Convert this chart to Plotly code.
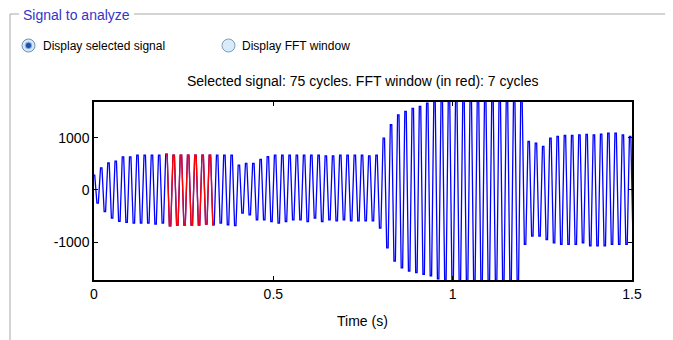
import plotly.graph_objects as go

# ---- data ----
period_s = 0.0202   # one cycle of the signal (about 50 Hz)
plateau_s = 0.004   # flat top / bottom width of each crest
peaks = [285, 420, 515, 550, 630, 630, 665, 665, 665, 665,
         685, 665, 665, 665, 665, 665, 665, 665, 665, 665,
         476, 508, 508, 584, 635, 665, 665, 665, 665, 665,
         665, 665, 650, 650, 665, 665, 665, 665, 650, 665,
         990, 1245, 1435, 1500, 1560, 1594, 1657, 1700, 1730, 1750,
         1760, 1770, 1770, 1770, 1760, 1760, 1750, 1740, 1730, 1720,
         927, 895, 832, 990, 1022, 1040, 1040, 1053, 1060, 1053,
         1065, 1085, 1085, 1053, 1022]
troughs = [-250, -413, -540, -600, -620, -635, -635, -635, -650, -635,
           -686, -670, -670, -670, -670, -650, -667, -635, -667, -680,
           -444, -476, -571, -571, -603, -635, -603, -571, -571, -603,
           -540, -603, -571, -590, -571, -590, -590, -590, -590, -730,
           -1105, -1360, -1490, -1550, -1580, -1610, -1640, -1700, -1740, -1760,
           -1780, -1790, -1790, -1790, -1780, -1770, -1760, -1750, -1740, -1041,
           -882, -882, -946, -1010, -1041, -1041, -1041, -1010, -1070, -1070,
           -1070, -1041, -1041, -1041, -1041]
fft_first_cycle = 10
fft_cycles = 7
x_ticks = [0, 0.5, 1, 1.5]
y_ticks = [-1000, 0, 1000]
title_text = "Selected signal: 75 cycles. FFT window (in red): 7 cycles"

# ---- build the signal as a peak / trough sequence ----
t, v = [], []
h = plateau_s / 2
for k, (p, q) in enumerate(zip(peaks, troughs)):
    tp = k * period_s
    tq = tp + period_s / 2
    t += [max(tp - h, 0), tp + h, tq - h, tq + h]
    v += [p, p, q, q]
i0 = 4 * fft_first_cycle
i1 = 4 * (fft_first_cycle + fft_cycles)
tr, vr = t[i0:i1], v[i0:i1]

# page is drawn with an 8 px body margin: work in page pixels, convert
OFF = 8
W, H = 673 - OFF, 340 - OFF
L, R, T, B = 94, 632, 102, 280  # plot area in page pixels


def px(x):
    return (x - L) / (R - L)


def py(y):
    return (B - y) / (B - T)


fig = go.Figure()
fig.add_trace(go.Scatter(x=t, y=v, mode="lines",
                         line=dict(color="#0000ff", width=1.3), hoverinfo="skip"))
fig.add_trace(go.Scatter(x=tr, y=vr, mode="lines",
                         line=dict(color="#ff0000", width=1.3), hoverinfo="skip"))

frame_col = "#a8a8a8"
shapes = [
    dict(type="line", xref="paper", yref="paper", x0=px(10), x1=px(10), y0=py(14), y1=py(350),
         line=dict(color=frame_col, width=1)),
    dict(type="line", xref="paper", yref="paper", x0=px(10), x1=px(19), y0=py(14), y1=py(14),
         line=dict(color=frame_col, width=1)),
    dict(type="line", xref="paper", yref="paper", x0=px(134), x1=px(666), y0=py(14), y1=py(14),
         line=dict(color=frame_col, width=1)),
    dict(type="line", xref="paper", yref="paper", x0=px(666), x1=px(666), y0=py(14), y1=py(350),
         line=dict(color=frame_col, width=1)),
]


def circle(cx, cy, r, fill, line_col, lw=1):
    return dict(type="circle", xref="paper", yref="paper",
                x0=px(cx - r), x1=px(cx + r), y0=py(cy + r), y1=py(cy - r),
                fillcolor=fill, line=dict(color=line_col, width=lw))


shapes += [
    circle(28.5, 45.5, 6.5, "#d6e8f7", "#6f8fb0"),
    circle(28.5, 45.5, 3.2, "#1f4fa8", "#8fb6e0"),
    circle(228.5, 45.5, 6.5, "#d9ebf8", "#7e9cbc"),
]

annotations = [
    dict(text="Signal to analyze", x=px(21), y=py(15), xref="paper", yref="paper",
         xanchor="left", yanchor="middle", showarrow=False,
         font=dict(family="Arial", size=14, color="#3535c8")),
    dict(text="Display selected signal", x=px(41), y=py(46), xref="paper", yref="paper",
         xanchor="left", yanchor="middle", showarrow=False,
         font=dict(family="Arial", size=12, color="#000000")),
    dict(text="Display FFT window", x=px(240), y=py(46), xref="paper", yref="paper",
         xanchor="left", yanchor="middle", showarrow=False,
         font=dict(family="Arial", size=12, color="#000000")),
    dict(text=title_text, x=px(362), y=py(81), xref="paper", yref="paper",
         xanchor="center", yanchor="middle", showarrow=False,
         font=dict(family="Arial", size=14, color="#000000")),
    dict(text="Time (s)", x=px(362), y=py(321), xref="paper", yref="paper",
         xanchor="center", yanchor="middle", showarrow=False,
         font=dict(family="Arial", size=14, color="#000000")),
]

axis_common = dict(showgrid=False, zeroline=False, showline=True, linecolor="#000000",
                   linewidth=1.5, mirror="ticks", ticks="inside", ticklen=4,
                   tickcolor="#000000", tickfont=dict(family="Arial", size=14, color="#000000"))

fig.update_layout(
    width=W, height=H,
    margin=dict(l=L - OFF, r=W - (R - OFF), t=T - OFF, b=H - (B - OFF), pad=0),
    paper_bgcolor="#ffffff", plot_bgcolor="#ffffff",
    showlegend=False,
    shapes=shapes, annotations=annotations,
    xaxis=dict(range=[0, 1.5], tickvals=x_ticks, ticktext=[str(x) for x in x_ticks],
               **axis_common),
    yaxis=dict(range=[-1720, 1680], tickvals=y_ticks, ticktext=[str(y) for y in y_ticks],
               **axis_common),
)

fig.write_html("out.html")
